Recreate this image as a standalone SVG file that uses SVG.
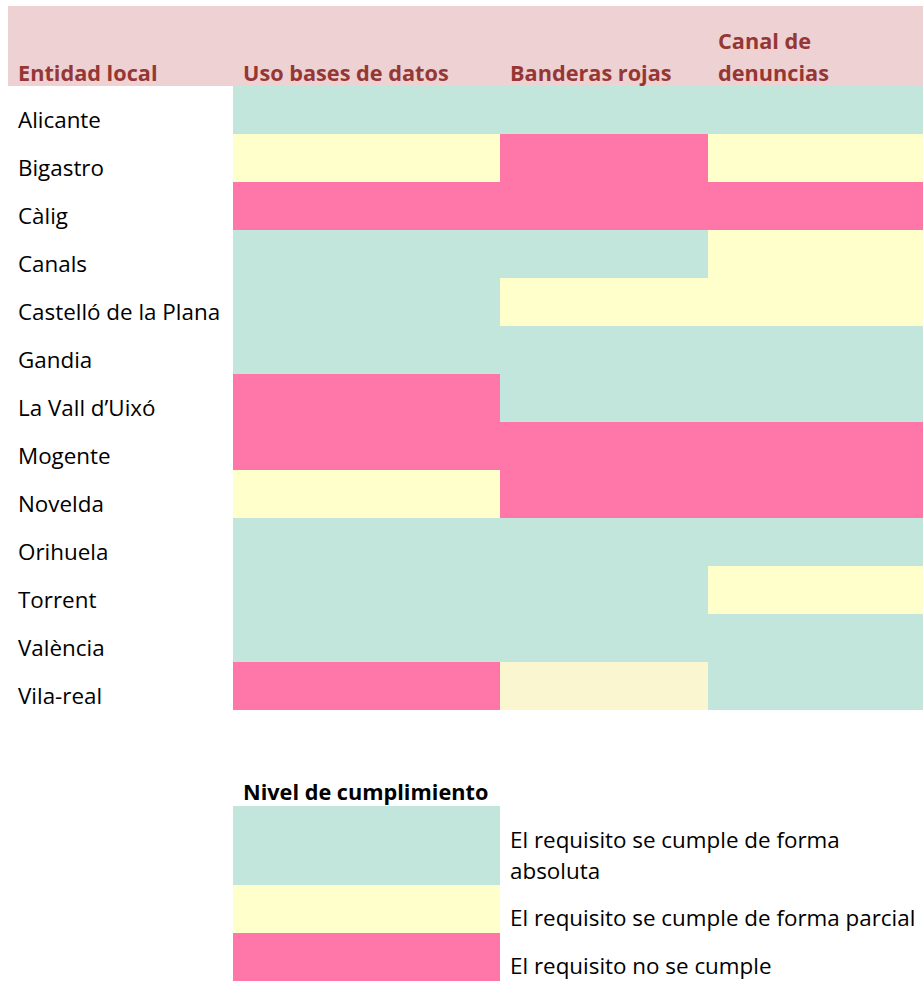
<svg xmlns="http://www.w3.org/2000/svg" width="923" height="981" viewBox="0 0 923 981">
<style>
.t{fill:#C2E5DC}.y{fill:#FFFFCC}.p{fill:#FF77A8}.y2{fill:#FAF7D0}
text{font-family:"Open Sans","Noto Sans",sans-serif;font-size:22.4px;fill:#000}
.h{font-weight:bold;fill:#953735;font-size:21.7px}
.b{font-weight:bold;font-size:21.7px}
</style>
<rect width="923" height="981" fill="#fff"/>
<g id="header">
<rect x="8" y="6" width="915" height="80" fill="#EED1D2"/>
<text class="h" x="18" y="81">Entidad local</text>
<text class="h" x="243" y="81">Uso bases de datos</text>
<text class="h" x="510" y="81">Banderas rojas</text>
<text class="h" x="718" y="49">Canal de</text>
<text class="h" x="718" y="81">denuncias</text>
</g>
<g id="rows">
<g id="r1"><rect class="t" x="233" y="86" width="690" height="48"/><text x="18" y="128">Alicante</text></g>
<g id="r2"><rect class="y" x="233" y="134" width="267" height="48"/><rect class="p" x="500" y="134" width="208" height="48"/><rect class="y" x="708" y="134" width="215" height="48"/><text x="18" y="176">Bigastro</text></g>
<g id="r3"><rect class="p" x="233" y="182" width="690" height="48"/><text x="18" y="224">Càlig</text></g>
<g id="r4"><rect class="t" x="233" y="230" width="475" height="48"/><rect class="y" x="708" y="230" width="215" height="48"/><text x="18" y="272">Canals</text></g>
<g id="r5"><rect class="t" x="233" y="278" width="267" height="48"/><rect class="y" x="500" y="278" width="423" height="48"/><text x="18" y="320">Castelló de la Plana</text></g>
<g id="r6"><rect class="t" x="233" y="326" width="690" height="48"/><text x="18" y="368">Gandia</text></g>
<g id="r7"><rect class="p" x="233" y="374" width="267" height="48"/><rect class="t" x="500" y="374" width="423" height="48"/><text x="18" y="416">La Vall d’Uixó</text></g>
<g id="r8"><rect class="p" x="233" y="422" width="690" height="48"/><text x="18" y="464">Mogente</text></g>
<g id="r9"><rect class="y" x="233" y="470" width="267" height="48"/><rect class="p" x="500" y="470" width="423" height="48"/><text x="18" y="512">Novelda</text></g>
<g id="r10"><rect class="t" x="233" y="518" width="690" height="48"/><text x="18" y="560">Orihuela</text></g>
<g id="r11"><rect class="t" x="233" y="566" width="475" height="48"/><rect class="y" x="708" y="566" width="215" height="48"/><text x="18" y="608">Torrent</text></g>
<g id="r12"><rect class="t" x="233" y="614" width="690" height="48"/><text x="18" y="656">València</text></g>
<g id="r13"><rect class="p" x="233" y="662" width="267" height="48"/><rect class="y2" x="500" y="662" width="208" height="48"/><rect class="t" x="708" y="662" width="215" height="48"/><text x="18" y="704">Vila-real</text></g>
</g>
<g id="legend">
<text class="b" x="243" y="800">Nivel de cumplimiento</text>
<rect class="t" x="233" y="806" width="267" height="79"/>
<rect class="y" x="233" y="885" width="267" height="48"/>
<rect class="p" x="233" y="933" width="267" height="48"/>
<text x="510" y="848">El requisito se cumple de forma</text>
<text x="510" y="879">absoluta</text>
<text x="510" y="926">El requisito se cumple de forma parcial</text>
<text x="510" y="974">El requisito no se cumple</text>
</g>
</svg>
